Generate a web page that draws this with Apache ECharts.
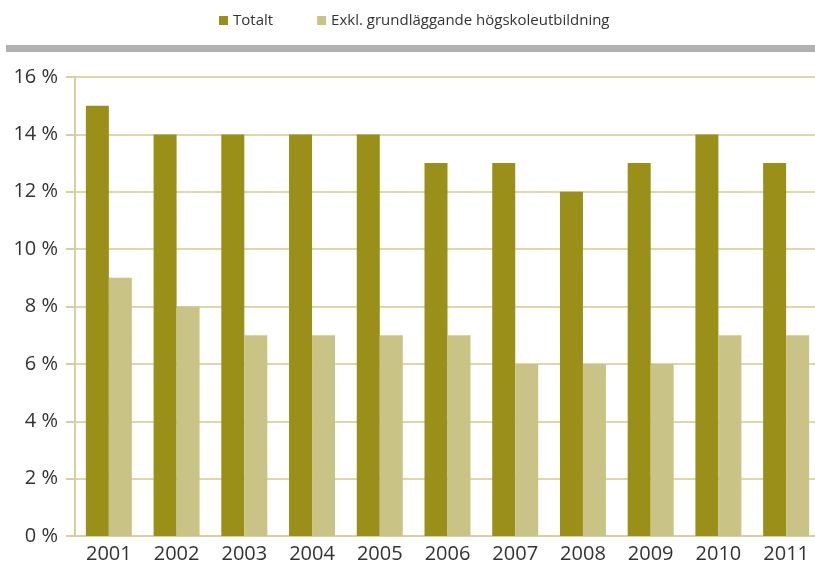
<!DOCTYPE html>
<html>
<head>
<meta charset="utf-8">
<script src="https://cdn.jsdelivr.net/npm/echarts@6/dist/echarts.min.js"></script>
<style>
  html, body { margin: 0; padding: 0; background: #fff; overflow: hidden; }
  #chart { width: 830px; height: 567px; }
</style>
</head>
<body>
<div id="chart"></div>
<script>
const years = ['2001', '2002', '2003', '2004', '2005', '2006', '2007', '2008', '2009', '2010', '2011'];
const totalt = [15, 14, 14, 14, 14, 13, 13, 12, 13, 14, 13];
const exkl = [9, 8, 7, 7, 7, 7, 6, 6, 6, 7, 7];

// the plot runs a little past the right edge of the picture, so the canvas is wider than the window
const chart = echarts.init(document.getElementById('chart'));
const font = 'Open Sans';

chart.setOption({
  animation: false,
  textStyle: { fontFamily: font },
  legend: {
    top: 8,
    left: 214,
    itemWidth: 9,
    itemHeight: 9,
    itemGap: 44,
    icon: 'rect',
    textStyle: { fontSize: 15, color: '#333', fontFamily: font },
    data: ['Totalt', 'Exkl. grundläggande högskoleutbildning'],
  },
  graphic: [
    {
      type: 'rect',
      shape: { x: 6, y: 45, width: 830, height: 7 },
      style: { fill: '#b1b1b3' },
    },
  ],
  grid: {
    left: 75,
    right: 10,
    top: 77,
    bottom: 31,
  },
  xAxis: {
    type: 'category',
    data: years,
    axisLine: { lineStyle: { color: '#d5d09f', width: 2 } },
    axisTick: { show: false },
    axisLabel: { fontSize: 20, color: '#333', margin: 8, fontFamily: font },
  },
  yAxis: {
    type: 'value',
    min: 0,
    max: 16,
    interval: 2,
    axisLine: { show: true, lineStyle: { color: '#d5d09f', width: 2 } },
    axisTick: { show: true, inside: false, length: 9, lineStyle: { color: '#d5d09f', width: 2 } },
    splitLine: { lineStyle: { color: '#dcd8aa', width: 2 } },
    axisLabel: {
      fontSize: 20,
      color: '#333',
      margin: 17,
      fontFamily: font,
      formatter: (v) => v + ' %',
    },
  },
  series: [
    {
      name: 'Totalt',
      type: 'bar',
      data: totalt,
      barWidth: 23,
      barGap: '0%',
      itemStyle: { color: '#9a9019' },
    },
    {
      name: 'Exkl. grundläggande högskoleutbildning',
      type: 'bar',
      data: exkl,
      barWidth: 23,
      itemStyle: { color: '#c9c486' },
    },
  ],
});
</script>
</body>
</html>
